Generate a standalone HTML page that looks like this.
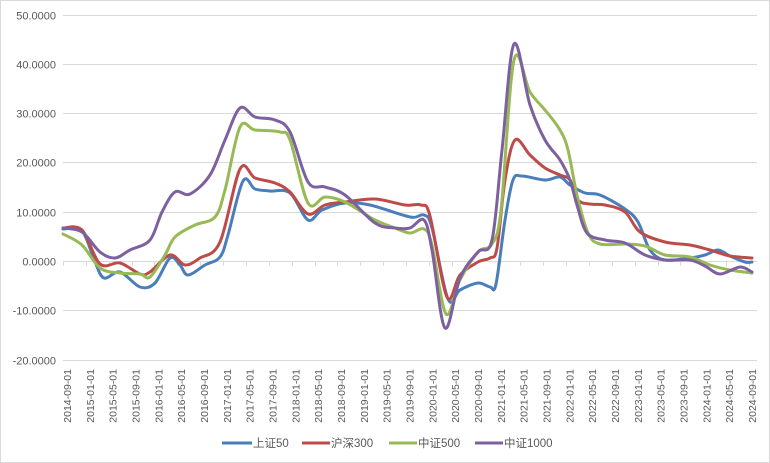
<!DOCTYPE html>
<html><head><meta charset="utf-8"><style>
body{margin:0;background:#fff;}
svg{display:block;font-family:"Liberation Sans","Noto Sans CJK SC",sans-serif;}
</style></head><body>
<svg id="s" width="770" height="463" viewBox="0 0 770 463">
<rect x="0.5" y="0.5" width="769" height="462" fill="#fff" stroke="#d9d9d9"/>
<g id="grid" stroke="#d9d9d9" stroke-width="1"></g>
<g id="yl" font-size="11" fill="#595959" text-anchor="end"></g>
<g id="xl" font-size="10.5" fill="#595959"></g>
<g id="lines" fill="none" stroke-width="3" stroke-linejoin="round" stroke-linecap="round"></g>
<g font-size="11.5" fill="#595959">
<line x1="222" y1="443" x2="252" y2="443" stroke="#4a7ebb" stroke-width="3"/><text x="253" y="447">上证50</text>
<line x1="302" y1="443" x2="330" y2="443" stroke="#be4b48" stroke-width="3"/><text x="331" y="447">沪深300</text>
<line x1="389" y1="443" x2="417" y2="443" stroke="#98b954" stroke-width="3"/><text x="418" y="447">中证500</text>
<line x1="475" y1="443" x2="503" y2="443" stroke="#7d60a0" stroke-width="3"/><text x="504" y="447">中证1000</text>
</g>
</svg>
<script>
var NS="http://www.w3.org/2000/svg";
function el(p,t,a,txt){var e=document.createElementNS(NS,t);for(var k in a)e.setAttribute(k,a[k]);if(txt!=null)e.textContent=txt;document.getElementById(p).appendChild(e);return e;}
for(var v=50;v>=-20;v-=10){var y=261-v*4.93;y=Math.round(y)+0.5;
el("grid","line",{x1:63,x2:757,y1:y,y2:y});
el("yl","text",{x:56,y:y+4},v.toFixed(4));}
for(var i=0;i<=30;i++){var x=63+i*(694/30.35);el("grid","line",{x1:Math.round(x)+0.5,x2:Math.round(x)+0.5,y1:261,y2:266});}
for(var i=0;i<=30;i++){var m=8+i*4,yr=2014+Math.floor(m/12),mo=m%12+1;
var s=yr+"-"+(mo<10?"0":"")+mo+"-01";var x=67+i*(685/30)+4;
el("xl","text",{x:0,y:0,transform:"translate("+x+",369) rotate(-90)","text-anchor":"end"},s);}
var S=[
["#4a7ebb",[[63,229],[82,231],[95,262],[104,278],[120,272],[140,287],[155,283],[170,258],[180,265],[188,275],[205,265],[220,257],[228,235],[243,181],[255,189],[270,191],[290,193],[308,220],[322,210],[345,203],[370,205],[410,217],[424,215],[432,228],[448,299],[460,290],[478,283],[490,287],[496,284],[505,220],[513,180],[522,176],[545,180],[560,177],[570,185],[585,193],[600,195],[625,209],[638,222],[650,250],[665,260],[690,258],[705,255],[718,250],[730,256],[745,262],[752,262]]],
["#be4b48",[[63,228],[82,230],[100,264],[120,263],[140,274],[150,272],[170,255],[185,265],[200,258],[220,242],[240,169],[255,178],[275,183],[290,192],[308,214],[325,205],[345,202],[375,199],[405,205],[421,205],[430,216],[447,297],[460,275],[478,262],[490,258],[497,248],[505,180],[515,140],[530,155],[545,168],[560,175],[570,180],[578,200],[590,204],[605,205],[625,212],[640,232],[665,242],[690,245],[710,250],[730,256],[752,258]]],
["#98b954",[[63,234],[82,245],[100,268],[120,273],[140,274],[150,277],[165,255],[175,237],[195,225],[215,217],[225,190],[240,127],[255,130],[280,132],[290,140],[308,203],[325,197],[345,202],[375,220],[395,228],[410,233],[424,229],[432,245],[446,314],[460,280],[478,252],[492,244],[501,210],[514,60],[530,92],[545,110],[560,130],[568,150],[577,195],[588,233],[600,244],[625,244],[645,246],[665,255],[690,257],[710,265],[730,270],[752,273]]],
["#7d60a0",[[63,228],[82,232],[100,252],[115,258],[130,250],[150,240],[162,212],[175,192],[190,194],[210,175],[225,140],[240,108],[255,117],[275,120],[290,132],[308,182],[325,187],[345,195],[375,223],[395,228],[410,228],[424,220],[432,250],[445,328],[460,278],[478,252],[492,240],[502,150],[514,44],[530,105],[545,140],[560,160],[570,180],[577,205],[587,233],[605,240],[625,243],[645,255],[665,260],[690,260],[705,266],[720,274],[740,267],[752,272]]]
];
S.forEach(function(s){var p=s[1],dd="M"+p[0][0]+","+p[0][1];
for(var i=0;i<p.length-1;i++){var p0=p[i-1]||p[i],p1=p[i],p2=p[i+1],p3=p[i+2]||p2;
var c1x=p1[0]+(p2[0]-p0[0])/6,c1y=p1[1]+(p2[1]-p0[1])/6,c2x=p2[0]-(p3[0]-p1[0])/6,c2y=p2[1]-(p3[1]-p1[1])/6;
dd+=" C"+c1x.toFixed(1)+","+c1y.toFixed(1)+" "+c2x.toFixed(1)+","+c2y.toFixed(1)+" "+p2[0]+","+p2[1];}
el("lines","path",{d:dd,stroke:s[0]});});
</script>
</body></html>
